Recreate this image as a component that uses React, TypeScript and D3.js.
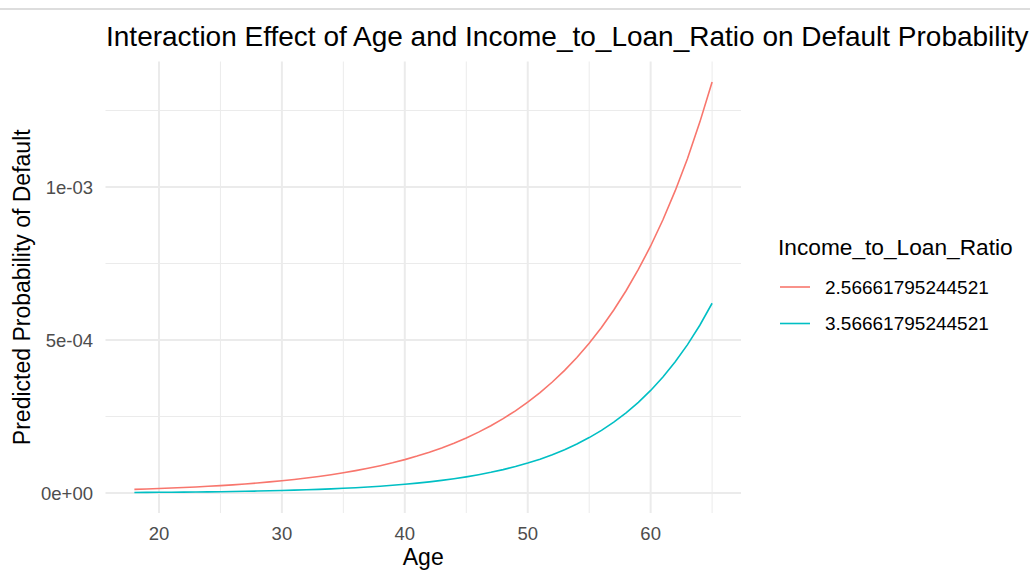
import React from "react";
import * as d3 from "d3";

const ages = [
  18, 19, 20, 21, 22, 23, 24, 25, 26, 27, 28, 29, 30, 31, 32, 33, 34, 35, 36, 37, 38, 39, 40, 41,
  42, 43, 44, 45, 46, 47, 48, 49, 50, 51, 52, 53, 54, 55, 56, 57, 58, 59, 60, 61, 62, 63, 64, 65,
];

// predicted probability, Income_to_Loan_Ratio = 2.566...
const probLow = [
  1.21e-5, 1.34e-5, 1.48e-5, 1.63e-5, 1.81e-5, 2.0e-5, 2.21e-5, 2.44e-5, 2.69e-5, 2.98e-5,
  3.29e-5, 3.64e-5, 4.02e-5, 4.44e-5, 4.91e-5, 5.43e-5, 6.0e-5, 6.63e-5, 7.32e-5, 8.09e-5,
  8.95e-5, 9.89e-5, 1.093e-4, 1.208e-4, 1.335e-4, 1.475e-4, 1.63e-4, 1.801e-4, 1.991e-4,
  2.2e-4, 2.432e-4, 2.687e-4, 2.97e-4, 3.282e-4, 3.628e-4, 4.009e-4, 4.431e-4, 4.897e-4,
  5.412e-4, 5.981e-4, 6.61e-4, 7.305e-4, 8.073e-4, 8.93e-4, 9.88e-4, 1.093e-3, 1.212e-3,
  1.343e-3,
];

// predicted probability, Income_to_Loan_Ratio = 3.566...
const probHigh = [
  1.91e-6, 2.16e-6, 2.45e-6, 2.77e-6, 3.13e-6, 3.54e-6, 4.0e-6, 4.53e-6, 5.12e-6, 5.79e-6,
  6.55e-6, 7.4e-6, 8.37e-6, 9.47e-6, 1.071e-5, 1.211e-5, 1.369e-5, 1.549e-5, 1.751e-5,
  1.981e-5, 2.24e-5, 2.533e-5, 2.864e-5, 3.239e-5, 3.663e-5, 4.143e-5, 4.685e-5, 5.298e-5,
  5.992e-5, 6.776e-5, 7.663e-5, 8.666e-5, 9.8e-5, 1.108e-4, 1.253e-4, 1.417e-4, 1.603e-4,
  1.813e-4, 2.05e-4, 2.318e-4, 2.622e-4, 2.965e-4, 3.353e-4, 3.792e-4, 4.288e-4, 4.849e-4,
  5.484e-4, 6.202e-4,
];

const groups = ["2.56661795244521", "3.56661795244521"];
const groupColors = ["#F8766D", "#00BFC4"];
const seriesValues = [probLow, probHigh];

const xMajor = [20, 30, 40, 50, 60];
const xMinor = [25, 35, 45, 55, 65];
const yMajor = [0, 5e-4, 1e-3];
const yMinor = [2.5e-4, 7.5e-4, 1.25e-3];

const FONT = "'Liberation Sans', Arial, sans-serif";

export default function App() {
  const W = 1030;
  const H = 571;
  const left = 105.5;
  const right = 741;
  const top = 61.5;
  const bottom = 513;

  const xExt = d3.extent(ages) as [number, number];
  const xPad = (xExt[1] - xExt[0]) * 0.05;
  const x = d3.scaleLinear().domain([xExt[0] - xPad, xExt[1] + xPad]).range([left, right]);

  const allY = seriesValues.flat();
  const yExt = d3.extent(allY) as [number, number];
  const yPad = (yExt[1] - yExt[0]) * 0.05;
  const y = d3.scaleLinear().domain([yExt[0] - yPad, yExt[1] + yPad]).range([bottom, top]);

  const line = d3
    .line<number>()
    .x((_, i) => x(ages[i]))
    .y((d) => y(d));

  const fmt = (v: number) => {
    if (v === 0) return "0e+00";
    const [m, e] = v.toExponential(0).split("e");
    const n = parseInt(e, 10);
    return `${m}e${n < 0 ? "-" : "+"}${String(Math.abs(n)).padStart(2, "0")}`;
  };

  const grid = "#EBEBEB";

  return (
    <svg
      width={W}
      height={H}
      style={{ position: "absolute", left: 0, top: 0, background: "#fff" }}
      fontFamily={FONT}
    >
      <rect x={0} y={8} width={W} height={2} fill="#DDDDDD" />

      {/* grid */}
      {yMinor.map((v) => (
        <line key={"ym" + v} x1={left} x2={right} y1={y(v)} y2={y(v)} stroke={grid} strokeWidth={1} />
      ))}
      {xMinor.map((v) => (
        <line key={"xm" + v} x1={x(v)} x2={x(v)} y1={top} y2={bottom} stroke={grid} strokeWidth={1} />
      ))}
      {yMajor.map((v) => (
        <line key={"yM" + v} x1={left} x2={right} y1={y(v)} y2={y(v)} stroke={grid} strokeWidth={2} />
      ))}
      {xMajor.map((v) => (
        <line key={"xM" + v} x1={x(v)} x2={x(v)} y1={top} y2={bottom} stroke={grid} strokeWidth={2} />
      ))}

      {/* lines */}
      {seriesValues.map((vals, i) => (
        <path key={groups[i]} d={line(vals) || ""} fill="none" stroke={groupColors[i]} strokeWidth={1.6} />
      ))}

      {/* axis ticks */}
      {xMajor.map((v) => (
        <text key={"xt" + v} x={x(v)} y={540} textAnchor="middle" fontSize={18.5} fill="#4D4D4D">
          {v}
        </text>
      ))}
      {yMajor.map((v) => (
        <text
          key={"yt" + v}
          x={93}
          y={y(v)}
          dy="0.36em"
          textAnchor="end"
          fontSize={18.5}
          fill="#4D4D4D"
        >
          {fmt(v)}
        </text>
      ))}

      {/* axis titles */}
      <text x={(left + right) / 2} y={565} textAnchor="middle" fontSize={23} fill="#000">
        Age
      </text>
      <text
        transform={`translate(30,${(top + bottom) / 2}) rotate(-90)`}
        textAnchor="middle"
        fontSize={23}
        fill="#000"
      >
        Predicted Probability of Default
      </text>

      {/* title */}
      <text x={106} y={46} fontSize={28} fill="#000">
        Interaction Effect of Age and Income_to_Loan_Ratio on Default Probability
      </text>

      {/* legend */}
      <text x={778} y={255} fontSize={22.7} fill="#000">
        Income_to_Loan_Ratio
      </text>
      {groups.map((g, i) => (
        <g key={"lg" + g} transform={`translate(0,${287 + i * 36.5})`}>
          <line x1={780} x2={810} y1={0} y2={0} stroke={groupColors[i]} strokeWidth={1.6} />
          <text x={825} y={0} dy="0.36em" fontSize={19} fill="#000">
            {g}
          </text>
        </g>
      ))}
    </svg>
  );
}
